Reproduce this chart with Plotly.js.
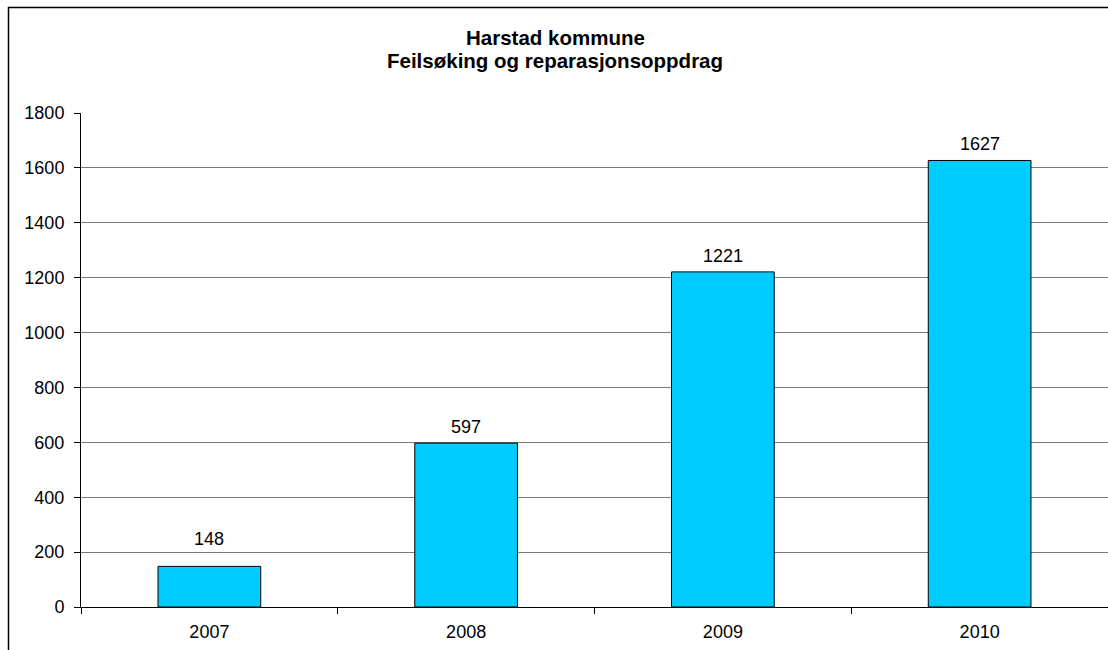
<!DOCTYPE html>
<html>
<head>
<meta charset="utf-8">
<script src="https://cdn.plot.ly/plotly-3.0.1.min.js"></script>
<style>
html, body { margin: 0; padding: 0; background: #ffffff; overflow: hidden; }
#chart { width: 1108px; height: 650px; }
</style>
</head>
<body>
<div id="chart"></div>
<script>
const years = ['2007', '2008', '2009', '2010'];
const oppdrag = [148, 597, 1221, 1627];
const yTicks = [0, 200, 400, 600, 800, 1000, 1200, 1400, 1600, 1800];
const titleLines = ['Harstad kommune', 'Feilsøking og reparasjonsoppdrag'];

const W = 1108, H = 650;
const margin = { l: 81, r: 0, t: 113, b: 43 };
const pw = W - margin.l - margin.r;
const ph = H - margin.t - margin.b;
const px = p => (p - margin.l) / pw;
const py = q => (H - margin.b - q) / ph;

const labelShift = [15, 4, 4, 4];
const font = 'Liberation Sans, Arial, sans-serif';

const annotations = years.map((y, i) => ({
  x: i, y: oppdrag[i], xref: 'x', yref: 'y',
  text: String(oppdrag[i]), showarrow: false,
  yanchor: 'bottom', yshift: labelShift[i],
  font: { family: font, size: 18, color: '#000' }
}));

const titleCenters = [38, 60];
titleLines.forEach((t, i) => {
  annotations.push({
    x: px(555), y: py(titleCenters[i]), xref: 'paper', yref: 'paper',
    xanchor: 'center', yanchor: 'middle', showarrow: false,
    text: '<b>' + t + '</b>',
    font: { family: font, size: 20.5, color: '#000' }
  });
});

const trace = {
  type: 'bar',
  x: years,
  y: oppdrag,
  marker: { color: '#00CCFF', line: { color: '#000000', width: 1 } },
  hoverinfo: 'x+y'
};

const layout = {
  width: W, height: H,
  margin: margin,
  paper_bgcolor: '#ffffff',
  plot_bgcolor: '#ffffff',
  showlegend: false,
  bargap: 0.6,
  font: { family: font, size: 18, color: '#000' },
  xaxis: {
    type: 'category',
    range: [-0.5, 3.5],
    showgrid: false,
    showline: true, linecolor: '#000', linewidth: 1,
    ticks: 'outside', tickson: 'boundaries', ticklen: 6, tickcolor: '#000', tickwidth: 1,
    ticklabelstandoff: 8,
    tickfont: { family: font, size: 18, color: '#000' },
    fixedrange: true
  },
  yaxis: {
    range: [0, 1800],
    tickvals: yTicks,
    ticktext: yTicks.map(String),
    showgrid: true, gridcolor: '#7a7a7a', gridwidth: 1,
    showline: true, linecolor: '#000', linewidth: 1,
    ticks: 'outside', ticklen: 6, tickcolor: '#000', tickwidth: 1,
    ticklabelstandoff: 6,
    zeroline: false,
    tickfont: { family: font, size: 18, color: '#000' },
    fixedrange: true
  },
  annotations: annotations,
  shapes: [{
    type: 'rect', xref: 'paper', yref: 'paper',
    x0: px(8.5), x1: px(1120), y0: py(7.5), y1: py(670),
    line: { color: '#000', width: 1.5 }, fillcolor: 'rgba(0,0,0,0)', layer: 'above'
  }]
};

Plotly.newPlot('chart', [trace], layout, { displayModeBar: false, staticPlot: true });
</script>
</body>
</html>
